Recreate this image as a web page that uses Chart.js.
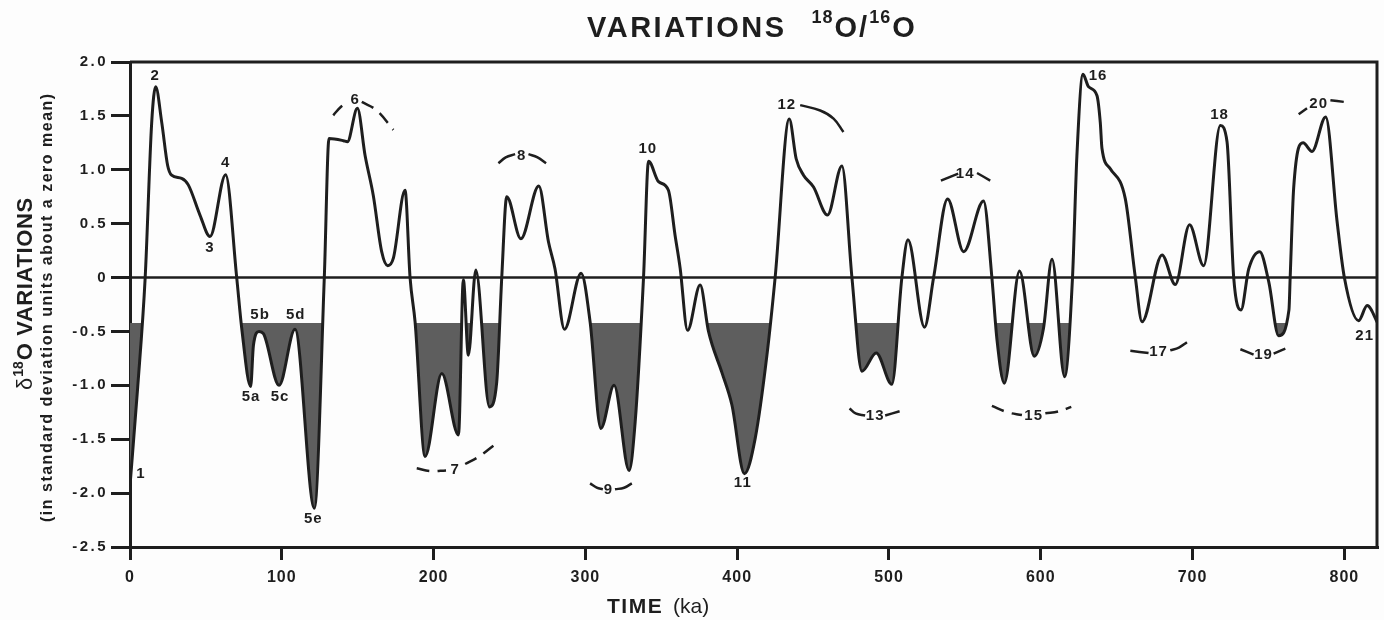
<!DOCTYPE html>
<html>
<head>
<meta charset="utf-8">
<script src="https://cdn.jsdelivr.net/npm/chart.js@4.4.1/dist/chart.umd.min.js"></script>
<style>
  body { margin: 0; background: #fdfdfd; }
  canvas { display: block; }
</style>
</head>
<body>
<canvas id="chart" width="1384" height="620"></canvas>
<script>
// time in ka and the d18O values
const timeKa = [
  0, 5, 10, 14.3, 16.9, 20.9, 24.8, 27.4, 34, 38.4, 46.1, 52.7, 63, 70.3, 73.6,
  79.5, 81.3, 85, 87.9, 98.2, 108.7, 121.5, 128, 131.1, 140.6, 143.2, 149.8,
  154.9, 160.3, 165.8, 169.8, 173.5, 181.2, 184.5, 187.8, 194.4, 205.4, 216.4,
  219.6, 222.9, 227.8, 236.8, 241.6, 244.9, 248.2, 257.5, 269.3, 275.7, 280,
  286.2, 297.2, 303.1, 310.2, 318.9, 328.8, 332.8, 338.3, 341.6, 348.2, 354.7,
  359.1, 362.4, 367.3, 375.6, 381.1, 389.9, 396.5, 404.8, 411.9, 419.6, 425,
  434.3, 438.9, 443.7, 450.3, 459.5, 469, 475.6, 482.2, 491.6, 501.9, 508.5,
  512.5, 523.4, 529.4, 538.6, 549.2, 562.3, 567.8, 571.1, 576, 586, 595.7,
  601.8, 607.4, 615.7, 620.9, 623.8, 627.8, 631.5, 637, 639.2, 640.3, 645.8,
  655.7, 662.3, 666.7, 679.9, 688.6, 698, 707.3, 718.3, 722.7, 727.1, 731.9,
  737, 744.2, 750.2, 756.7, 763.5, 764.3, 766.6, 772.8, 778.7, 787.7, 795.2,
  800, 809.4, 815, 822.6
];
const d18O = [
  -1.93, -1.03, 0, 1.44, 1.77, 1.44, 1.04, 0.95, 0.92, 0.86, 0.58, 0.38, 0.955, 0, -0.47,
  -1.01, -0.63, -0.5, -0.52, -1.0, -0.48, -2.14, 0, 1.29, 1.27, 1.26, 1.57,
  1.13, 0.76, 0.24, 0.11, 0.18, 0.81, 0, -0.41, -1.66, -0.89, -1.46,
  -0.02, -0.72, 0.07, -1.2, -0.97, 0, 0.75, 0.36, 0.85, 0.33, 0.08,
  -0.48, 0.04, -0.41, -1.4, -1.0, -1.79, -1.34, 0, 1.08, 0.89, 0.81,
  0.39, 0.09, -0.49, -0.07, -0.5, -0.88, -1.18, -1.82, -1.49, -0.72, 0,
  1.47, 1.1, 0.95, 0.84, 0.58, 1.035, 0, -0.87, -0.7, -0.99, 0,
  0.35, -0.46, 0, 0.73, 0.24, 0.71, 0, -0.57, -0.98, 0.06, -0.73,
  -0.47, 0.17, -0.92, 0, 1.13, 1.886, 1.77, 1.69, 1.44, 1.2, 1.01,
  0.73, 0, -0.41, 0.21, -0.065, 0.49, 0.11, 1.41, 1.26, 0, -0.3,
  0.08, 0.24, -0.04, -0.54, -0.3, 0, 0.83, 1.25, 1.17, 1.49, 0.52,
  0, -0.4, -0.26, -0.44
];

// stretches where the curve is shaded below the glacial level
const shadedRanges = [
  [0, 17], [63, 131.1], [181.2, 248.2], [297.2, 341.6],
  [375.6, 434.3], [469, 512.5], [562.3, 623.8], [744.2, 766.6]
];
const glacialLevel = -0.42;

// isotope stage numbers
const stageNames = ['1', '2', '3', '4', '5a', '5b', '5c', '5d', '5e', '6', '7', '8', '9', '10',
  '11', '12', '13', '14', '15', '16', '17', '18', '19', '20', '21'];
const stageKa = [7.2, 16.5, 52.7, 63, 79.7, 85.7, 98.8, 109.2, 120.8, 148.3, 214.2, 258.1, 315.2,
  341.1, 403.7, 432.7, 490.9, 550.2, 595.3, 637.7, 677.6, 717.8, 746.8, 783.1, 813.4];
const stageVal = [-1.82, 1.87, 0.275, 1.06, -1.11, -0.35, -1.11, -0.35, -2.235, 1.645, -1.78, 1.13,
  -1.97, 1.19, -1.905, 1.6, -1.28, 0.96, -1.28, 1.875, -0.685, 1.505, -0.715, 1.61, -0.54];

// brackets around the stage numbers, two pieces each
const arcPieces = [
  [[[133.9, 1.505], [139, 1.585], [143.9, 1.63]], [[152.7, 1.63], [162.6, 1.55], [173.5, 1.37]]],
  [[[188.9, -1.77], [198, -1.795], [208.2, -1.79]], [[220.8, -1.73], [230, -1.66], [239.4, -1.56]]],
  [[[242.7, 1.06], [247.5, 1.115], [253.7, 1.145]], [[262.5, 1.145], [268.5, 1.115], [274.1, 1.06]]],
  [[[303.1, -1.91], [307.5, -1.95], [311.5, -1.965]], [[319.5, -1.965], [325.5, -1.95], [330.6, -1.91]]],
  [[[441.5, 1.6], [454.7, 1.55], [463.5, 1.475], [470, 1.35]]],
  [[[474, -1.215], [478, -1.26], [484.3, -1.28]], [[497.5, -1.28], [507, -1.24]]],
  [[[534.2, 0.9], [545.6, 0.965]], [[558, 0.97], [566.7, 0.9]]],
  [[[567.8, -1.19], [578, -1.25], [587.6, -1.275]], [[603, -1.26], [612, -1.24], [620.1, -1.2]]],
  [[[659, -0.68], [671, -0.7]], [[685.3, -0.675], [691, -0.65], [696.3, -0.6]]],
  [[[731.5, -0.665], [740.2, -0.715]], [[753.4, -0.705], [761.1, -0.66]]],
  [[[769.9, 1.515], [775.4, 1.57]], [[790.8, 1.645], [799.6, 1.63]]]
];
const dashedArcs = [0, 1, 7];

const FONT = "'Liberation Sans', Arial, sans-serif";
const INK = '#1e1e1e';
const SHADE = '#5e5e5e';

function inShade(x) {
  return shadedRanges.some(r => x >= r[0] && x <= r[1]);
}

const linePoints = timeKa.map((x, i) => ({ x: x, y: d18O[i] }));
const shadePoints = timeKa.map((x, i) => ({ x: x, y: inShade(x) ? d18O[i] : null }));

const arcDatasets = arcPieces.map((pieces, i) => {
  let pts = [];
  pieces.forEach((p, j) => {
    if (j > 0) pts.push({ x: (pts[pts.length - 1].x + p[0][0]) / 2, y: null });
    p.forEach(q => pts.push({ x: q[0], y: q[1] }));
  });
  return {
    data: pts,
    borderColor: INK,
    borderWidth: 2.5,
    borderDash: dashedArcs.includes(i) ? [13, 8] : [],
    pointRadius: 0,
    tension: 0.4,
    spanGaps: false,
    fill: false,
    order: 0
  };
});

// tick labels are drawn letter-spaced
function spacedLabels(scale, spacing) {
  if (scale._spaced) return;
  const draw = scale.drawLabels.bind(scale);
  scale.drawLabels = area => {
    scale.ctx.save();
    scale.ctx.letterSpacing = spacing;
    draw(area);
    scale.ctx.restore();
  };
  scale._spaced = true;
}

const framePlugin = {
  id: 'frame',
  beforeDatasetsDraw(chart) {
    const { ctx, chartArea: a, scales } = chart;
    const y0 = scales.y.getPixelForValue(0);

    // shading between the curve and the glacial level
    const line = chart.getDatasetMeta(1).dataset;
    line.updateControlPoints(a, 'x');
    const yl = Math.round(scales.y.getPixelForValue(glacialLevel));
    const pts = line.points;
    ctx.save();
    ctx.beginPath();
    ctx.rect(a.left, yl, a.right - a.left, a.bottom - yl);
    ctx.clip();
    ctx.fillStyle = SHADE;
    line.segments.forEach(seg => {
      ctx.beginPath();
      line.pathSegment(ctx, seg, { move: true });
      ctx.lineTo(pts[seg.end].x, yl);
      ctx.lineTo(pts[seg.start].x, yl);
      ctx.closePath();
      ctx.fill();
    });
    ctx.restore();

    ctx.save();
    ctx.strokeStyle = INK;
    ctx.lineWidth = 2.5;
    ctx.beginPath();
    ctx.moveTo(a.left, y0);
    ctx.lineTo(a.right, y0);
    ctx.stroke();
    ctx.lineWidth = 3;
    ctx.beginPath();
    ctx.moveTo(a.left, a.top);
    ctx.lineTo(a.right, a.top);
    ctx.lineTo(a.right, a.bottom);
    ctx.stroke();
    ctx.restore();
  },
  afterDraw(chart) {
    const { ctx, scales } = chart;
    ctx.save();
    ctx.fillStyle = INK;

    // stage numbers
    ctx.font = 'bold 15px ' + FONT;
    ctx.letterSpacing = '1px';
    ctx.textAlign = 'center';
    ctx.textBaseline = 'middle';
    stageNames.forEach((s, i) => {
      ctx.fillText(s, scales.x.getPixelForValue(stageKa[i]), scales.y.getPixelForValue(stageVal[i]));
    });

    // main title
    ctx.textAlign = 'left';
    ctx.textBaseline = 'alphabetic';
    let x = 587;
    const big = 'bold 29px ' + FONT, sup = 'bold 18px ' + FONT;
    ctx.letterSpacing = '2.5px';
    ctx.font = big;
    ctx.fillText('VARIATIONS', x, 37);
    x += ctx.measureText('VARIATIONS').width + 25;
    ctx.letterSpacing = '1px';
    ctx.font = sup;
    ctx.fillText('18', x, 23);
    x += ctx.measureText('18').width + 1;
    ctx.letterSpacing = '2px';
    ctx.font = big;
    ctx.fillText('O/', x, 37);
    x += ctx.measureText('O/').width;
    ctx.letterSpacing = '1px';
    ctx.font = sup;
    ctx.fillText('16', x, 23);
    x += ctx.measureText('16').width + 1;
    ctx.font = big;
    ctx.fillText('O', x, 37);

    // x axis title
    ctx.letterSpacing = '1.5px';
    ctx.font = 'bold 21px ' + FONT;
    ctx.fillText('TIME', 607, 613);
    ctx.letterSpacing = '0px';
    ctx.font = '21px ' + FONT;
    ctx.fillText('(ka)', 673, 613);

    // y axis titles
    ctx.save();
    ctx.translate(32, 390);
    ctx.rotate(-Math.PI / 2);
    let t = 0;
    ctx.font = '22px ' + FONT;
    ctx.fillText('\u03b4', t, 0);
    t += ctx.measureText('\u03b4').width + 1;
    ctx.font = 'bold 14px ' + FONT;
    ctx.fillText('18', t, -9);
    t += ctx.measureText('18').width + 1;
    ctx.font = 'bold 22px ' + FONT;
    ctx.letterSpacing = '0.6px';
    ctx.fillText('O VARIATIONS', t, 0);
    ctx.restore();

    ctx.save();
    ctx.translate(52, 522);
    ctx.rotate(-Math.PI / 2);
    ctx.font = 'bold 16px ' + FONT;
    ctx.letterSpacing = '1.5px';
    ctx.fillText('(in standard deviation units about a zero mean)', 0, 0);
    ctx.restore();

    ctx.restore();
  }
};

new Chart(document.getElementById('chart'), {
  type: 'line',
  data: {
    datasets: [
      {
        data: linePoints,
        borderColor: INK,
        borderWidth: 3,
        pointRadius: 0,
        cubicInterpolationMode: 'monotone',
        fill: false,
        order: 0
      },
      {
        // carries the shaded stretches; painted by the frame plugin
        data: shadePoints,
        borderWidth: 0,
        borderColor: 'rgba(0,0,0,0)',
        pointRadius: 0,
        cubicInterpolationMode: 'monotone',
        spanGaps: false,
        fill: false,
        order: 2
      },
      ...arcDatasets
    ]
  },
  options: {
    responsive: false,
    animation: false,
    layout: { padding: { top: 62, right: 7, left: 0, bottom: 0 } },
    plugins: {
      legend: { display: false },
      tooltip: { enabled: false },
      title: { display: false }
    },
    scales: {
      x: {
        type: 'linear',
        min: 0,
        max: 821.5,
        border: { color: INK, width: 3 },
        grid: { drawOnChartArea: false, tickLength: 13, lineWidth: 3, color: INK },
        ticks: {
          stepSize: 100,
          includeBounds: false,
          maxRotation: 0,
          padding: 8,
          color: INK,
          font: { family: FONT, size: 16, weight: 'bold' }
        },
        afterFit: s => { s.height = 73; spacedLabels(s, '1px'); }
      },
      y: {
        min: -2.5,
        max: 2,
        border: { color: INK, width: 3 },
        grid: { drawOnChartArea: false, tickLength: 19, lineWidth: 3, color: INK },
        ticks: {
          stepSize: 0.5,
          padding: 3,
          color: INK,
          font: { family: FONT, size: 15, weight: 'bold' },
          callback: v => (v === 0 ? '0' : v.toFixed(1))
        },
        afterFit: s => { s.width = 130; spacedLabels(s, '2.5px'); }
      }
    }
  },
  plugins: [framePlugin]
});
</script>
</body>
</html>
